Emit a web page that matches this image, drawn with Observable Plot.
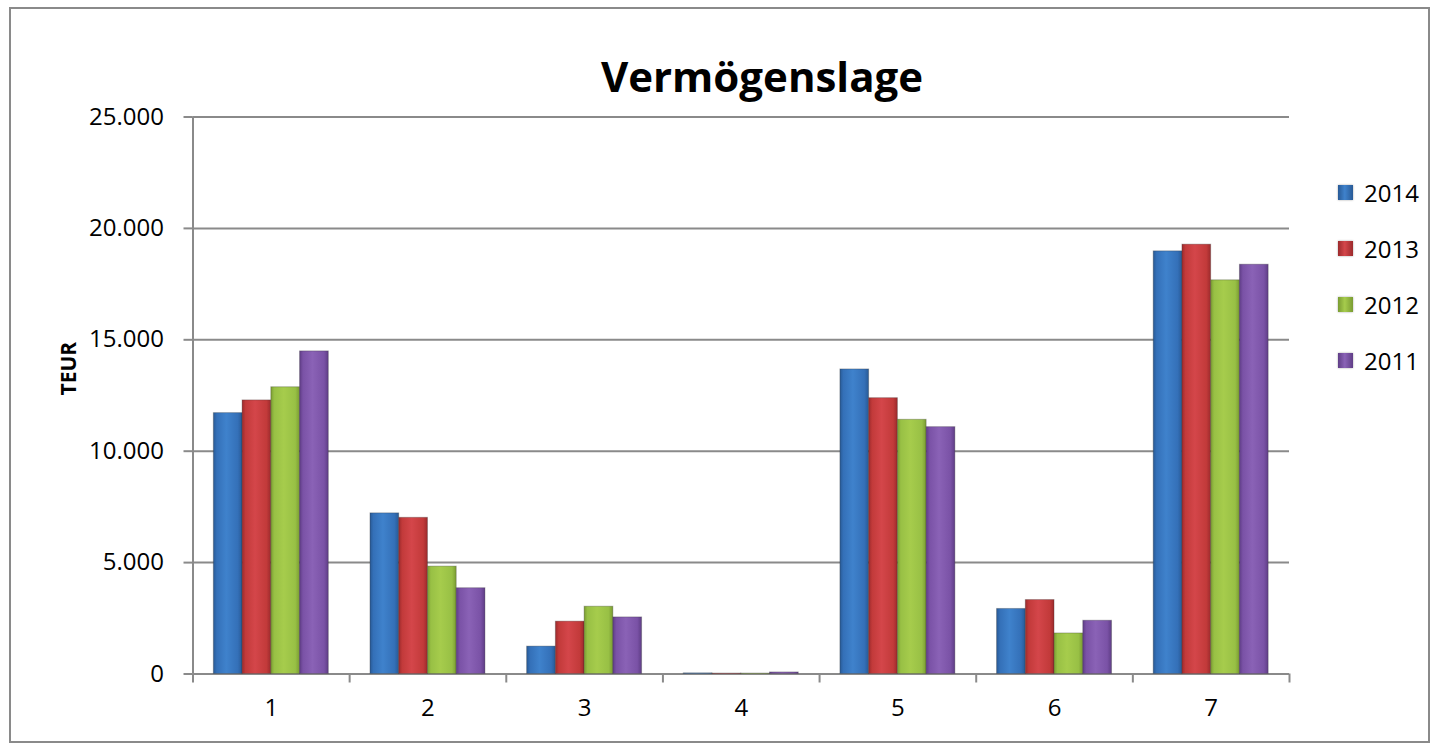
<!DOCTYPE html>
<html>
<head>
<meta charset="utf-8">
<script src="https://cdn.jsdelivr.net/npm/d3@7"></script>
<script src="https://cdn.jsdelivr.net/npm/@observablehq/plot@0.6"></script>
<style>
  html, body { margin: 0; padding: 0; background: #fff; }
  #wrap { position: relative; width: 1432px; height: 747px; font-family: "Open Sans", Lato, sans-serif; }
  #frame { position: absolute; left: 9px; top: 7px; width: 1421px; height: 736px; border: 2px solid #8a8a8a; box-sizing: border-box; }
  #title { position: absolute; left: 0; width: 1524px; top: 47px; text-align: center; font-weight: 700; font-size: 42px; line-height: 1.362; color: #000; }
  #legend { position: absolute; left: 1338px; top: 164px; }
  .li { display: flex; align-items: center; height: 56px; font-size: 24px; }
  .sw { width: 15px; height: 15px; margin-right: 11px; box-shadow: 0 0 2px rgba(0,0,0,0.35); }
  #chart { position: absolute; left: 0; top: 0; }
</style>
</head>
<body>
<div id="wrap">
  <div id="frame"></div>
  <div id="chart"></div>
  <div id="title">Vermögenslage</div>
  <div id="legend"></div>
</div>
<script>
const categories = [1, 2, 3, 4, 5, 6, 7];
const series = ["2014", "2013", "2012", "2011"];
const values2014 = [11710, 7210, 1230, 30, 13670, 2920, 18970];
const values2013 = [12280, 7010, 2350, 20, 12380, 3320, 19270];
const values2012 = [12870, 4820, 3020, 20, 11410, 1820, 17670];
const values2011 = [14480, 3850, 2540, 70, 11080, 2390, 18370];
const colors = ["#3470b8", "#c23a3a", "#98c045", "#7a52a6"];
const edgeColors = ["#285a96", "#9c2a2c", "#7a9c32", "#5f3d86"];
const lightColors = ["#3f82cc", "#d4464a", "#a6cc4c", "#8a62b6"];
const yTicks = [0, 5000, 10000, 15000, 20000, 25000];

const seriesValues = [values2014, values2013, values2012, values2011];
const barFrac = 0.1835;
const rows = [];
categories.forEach((c, ci) => {
  series.forEach((s, si) => {
    const x1 = c - 2 * barFrac + si * barFrac;
    rows.push({cat: c, series: s, value: seriesValues[si][ci], x1, x2: x1 + barFrac});
  });
});
const boundaries = [0.5, ...categories.map(c => c + 0.5)];
const de = d3.formatLocale({decimal: ",", thousands: ".", grouping: [3], currency: ["", " €"]});
const fmt = de.format(",");

const plot = Plot.plot({
  width: 1432,
  height: 747,
  marginTop: 116.5,
  marginBottom: 73.5,
  marginLeft: 192.5,
  marginRight: 143,
  style: {fontFamily: "'Open Sans', Lato, sans-serif", fontSize: "24px", color: "#000", background: "transparent"},
  x: {type: "linear", domain: [0.5, 7.5], ticks: boundaries, tickFormat: () => "", tickSize: 9, label: null, line: false},
  y: {domain: [0, 25000], ticks: yTicks, tickFormat: fmt, tickSize: 9, tickPadding: 20, label: null},
  color: {domain: series, range: series.map((s, i) => `url(#grad${i})`)},
  marks: [
    Plot.ruleY(yTicks, {stroke: "#8a8a8a", strokeWidth: 2}),
    Plot.rectY(rows, {x1: "x1", x2: "x2", y: "value", fill: "series", stroke: "#333", strokeOpacity: 0.3, strokeWidth: 1}),
    Plot.ruleX([0.5], {stroke: "#8a8a8a", strokeWidth: 2}),
    Plot.text(categories, {x: d => d, frameAnchor: "bottom", dy: 42, text: d => String(d), fontSize: 24}),
    Plot.text(["TEUR"], {frameAnchor: "left", dx: -124, rotate: -90, fontWeight: "bold", fontSize: 21})
  ]
});
// gradients for bars
const ns = "http://www.w3.org/2000/svg";
const defs = document.createElementNS(ns, "defs");
colors.forEach((c, i) => {
  const g = document.createElementNS(ns, "linearGradient");
  g.setAttribute("id", `grad${i}`);
  g.setAttribute("x1", "0"); g.setAttribute("x2", "1"); g.setAttribute("y1", "0"); g.setAttribute("y2", "0");
  [[0, edgeColors[i]], [0.12, c], [0.45, lightColors[i]], [0.85, c], [1, edgeColors[i]]].forEach(([o, col]) => {
    const st = document.createElementNS(ns, "stop");
    st.setAttribute("offset", o);
    st.setAttribute("stop-color", col);
    g.appendChild(st);
  });
  defs.appendChild(g);
});
plot.insertBefore(defs, plot.firstChild);
// color axis ticks
plot.querySelectorAll("g[aria-label='x-axis'] path, g[aria-label='y-axis'] path, [aria-label='x-axis tick'] path, [aria-label='y-axis tick'] path").forEach(p => { p.setAttribute("stroke", "#8a8a8a"); p.setAttribute("stroke-width", "2"); });
document.getElementById("chart").appendChild(plot);

const legend = document.getElementById("legend");
series.forEach((s, i) => {
  const li = document.createElement("div");
  li.className = "li";
  const sw = document.createElement("div");
  sw.className = "sw";
  sw.style.background = `linear-gradient(to right, ${edgeColors[i]}, ${lightColors[i]} 45%, ${edgeColors[i]})`;
  li.appendChild(sw);
  li.appendChild(document.createTextNode(s));
  legend.appendChild(li);
});
</script>
</body>
</html>
